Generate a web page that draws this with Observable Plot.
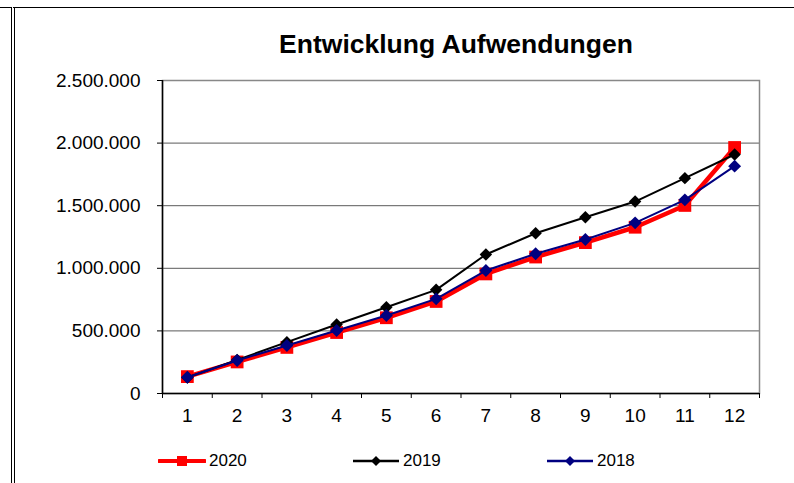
<!DOCTYPE html>
<html>
<head>
<meta charset="utf-8">
<script src="https://cdn.jsdelivr.net/npm/d3@7"></script>
<script src="https://cdn.jsdelivr.net/npm/@observablehq/plot@0.6"></script>
<style>
  html, body { margin: 0; padding: 0; background: #fff; }
  #wrap { position: relative; width: 794px; height: 483px; overflow: hidden; background: #fff;
          font-family: "Liberation Sans", Arial, sans-serif; color: #000; }
  #frame { position: absolute; left: 11px; top: 7px; width: 800px; height: 500px;
           border-top: 1px solid #000; border-left: 4px double #000; box-sizing: border-box; }
  #frameTopLeft { position: absolute; left: 0; top: 7px; width: 12px; height: 1px; background: #000; }
  #title { position: absolute; left: 156px; width: 600px; top: 29px; line-height: 30px;
           text-align: center; font-weight: bold; font-size: 26.5px; white-space: nowrap; }
  #chart { position: absolute; left: 0; top: 60px; }
  #legend { position: absolute; left: 158px; top: 450px; height: 22px; display: flex; }
  .item { width: 194px; display: flex; align-items: center; font-size: 17px; }
  .item svg { display: block; margin-right: 3px; }
</style>
</head>
<body>
<div id="wrap">
  <div id="frameTopLeft"></div>
  <div id="frame"></div>
  <div id="title"></div>
  <div id="chart"></div>
  <div id="legend"></div>
</div>
<script>
const titleText = "Entwicklung Aufwendungen";
const months = [1, 2, 3, 4, 5, 6, 7, 8, 9, 10, 11, 12];
const seriesNames = ["2020", "2019", "2018"];
const values2020 = [135000, 252000, 368000, 487000, 605000, 735000, 955000, 1090000, 1205000, 1328000, 1502000, 1965000];
const values2019 = [128000, 268000, 410000, 551000, 689000, 828000, 1110000, 1280000, 1408000, 1533000, 1720000, 1909000];
const values2018 = [130000, 264000, 383000, 503000, 623000, 756000, 982000, 1116000, 1230000, 1363000, 1547000, 1816000];
const yTicks = [0, 500000, 1000000, 1500000, 2000000, 2500000];
const seriesColors = ["#ff0000", "#000000", "#000080"];
const seriesSymbols = ["square", "diamond2", "diamond2"];
const lineWidths = [4.5, 2, 2];
const dotRadii = [7.2, 5.6, 5.8];

const seriesValues = [values2020, values2019, values2018];
const fmt = d => d3.format(",")(d).replace(/,/g, ".");
const boundaries = d3.range(0.5, 13, 1);

document.getElementById("title").textContent = titleText;

const seriesMarks = [];
seriesNames.forEach((name, i) => {
  const data = months.map((m, j) => ({month: m, value: seriesValues[i][j], series: name}));
  seriesMarks.push(Plot.line(data, {x: "month", y: "value", stroke: seriesColors[i], strokeWidth: lineWidths[i], strokeLinejoin: "miter"}));
  seriesMarks.push(Plot.dot(data, {x: "month", y: "value", symbol: seriesSymbols[i], r: dotRadii[i], fill: seriesColors[i], stroke: "none"}));
});

const chart = Plot.plot({
  width: 794,
  height: 370,
  marginTop: 20,
  marginBottom: 37,
  marginLeft: 162,
  marginRight: 35,
  style: {fontFamily: "'Liberation Sans', Arial, sans-serif", fontSize: "19px", color: "#000", background: "transparent"},
  x: {type: "linear", domain: [0.5, 12.5], label: null},
  y: {domain: [0, 2500000], label: null},
  marks: [
    Plot.ruleY(yTicks.filter(d => d > 0 && d < 2500000), {stroke: "#5a5a5a", strokeWidth: 1}),
    Plot.frame({stroke: "#888", strokeWidth: 1.5}),
    Plot.ruleX([0.5], {stroke: "#000", strokeWidth: 1.5}),
    Plot.ruleY([0], {stroke: "#000", strokeWidth: 1.5}),
    Plot.axisY({ticks: yTicks, tickSize: 5, tickFormat: () => "", label: null, stroke: "#000"}),
    Plot.axisY({ticks: yTicks, tickSize: 0, tickPadding: 22, tickFormat: fmt, label: null, fill: "#000"}),
    Plot.axisX({ticks: boundaries, tickSize: 5, tickFormat: () => "", label: null, stroke: "#000"}),
    Plot.axisX({ticks: months, tickSize: 0, tickPadding: 15, tickFormat: d => String(d), label: null, fill: "#000"}),
    ...seriesMarks
  ]
});
document.getElementById("chart").appendChild(chart);

// Legend
const legend = document.getElementById("legend");
seriesNames.forEach((name, i) => {
  const item = document.createElement("div");
  item.className = "item";
  const w = 48, h = 22, cy = 11, cx = 24;
  let marker;
  if (seriesSymbols[i] === "square") {
    marker = `<rect x="${cx - 5}" y="${cy - 5}" width="10" height="10" fill="${seriesColors[i]}"/>`;
  } else {
    marker = `<path d="M${cx},${cy - 5}L${cx + 5},${cy}L${cx},${cy + 5}L${cx - 5},${cy}Z" fill="${seriesColors[i]}"/>`;
  }
  const sw = i === 0 ? 4 : 2.5;
  item.innerHTML = `<svg width="${w}" height="${h}"><line x1="1" x2="${w - 1}" y1="${cy}" y2="${cy}" stroke="${seriesColors[i]}" stroke-width="${sw}" stroke-linecap="${i === 0 ? "round" : "butt"}"/>${marker}</svg><span>${name}</span>`;
  legend.appendChild(item);
});
</script>
</body>
</html>
